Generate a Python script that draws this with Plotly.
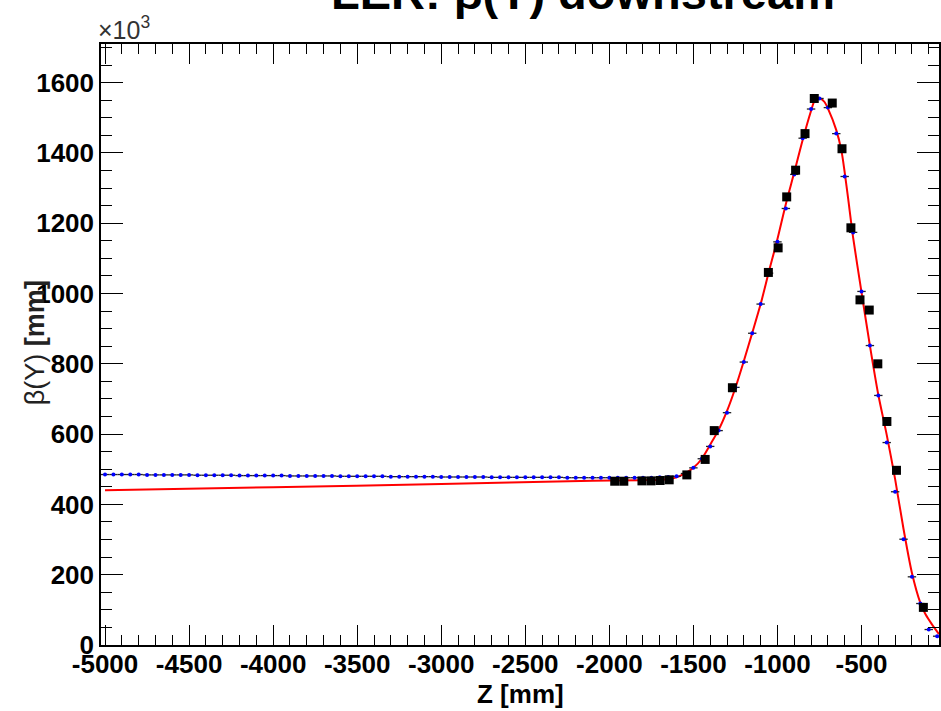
import plotly.graph_objects as go

# ---- data ----
z_sim = [-5000, -4950, -4900, -4850, -4800, -4750, -4700, -4650, -4600, -4550,
         -4500, -4450, -4400, -4350, -4300, -4250, -4200, -4150, -4100, -4050,
         -4000, -3950, -3900, -3850, -3800, -3750, -3700, -3650, -3600, -3550,
         -3500, -3450, -3400, -3350, -3300, -3250, -3200, -3150, -3100, -3050,
         -3000, -2950, -2900, -2850, -2800, -2750, -2700, -2650, -2600, -2550,
         -2500, -2450, -2400, -2350, -2300, -2250, -2200, -2150, -2100, -2050,
         -2000, -1950, -1900, -1850, -1800, -1750, -1700, -1650, -1600, -1550,
         -1500, -1450, -1400, -1350, -1300, -1250, -1200, -1150, -1100, -1050,
         -1000, -950, -900, -850, -800, -750, -700, -650, -600, -550,
         -500, -450, -400, -350, -300, -250, -200, -150, -100, -50]
beta_sim = [485, 485, 485, 485, 485, 484, 484, 484, 484, 484,
            484, 483, 483, 483, 483, 483, 482, 482, 482, 482,
            482, 482, 481, 481, 481, 481, 481, 481, 480, 480,
            480, 480, 480, 480, 479, 479, 479, 479, 479, 479,
            478, 478, 478, 478, 478, 478, 477, 477, 477, 477,
            477, 477, 477, 477, 477, 476, 476, 476, 476, 476,
            476, 476, 476, 476, 476, 476, 477, 478, 480, 488,
            504, 530, 565, 610, 661, 733, 805, 887, 970, 1058,
            1147, 1242, 1339, 1442, 1525, 1555, 1529, 1455, 1333, 1174,
            1006, 852, 710, 576, 436, 301, 194, 118, 44, 25]

z_meas = [-1968, -1914, -1806, -1752, -1698, -1644, -1539, -1430, -1376, -1268,
          -1054, -996, -945, -892, -836, -781, -674, -616, -563, -509,
          -454, -403, -349, -292, -132]
beta_meas = [466, 466, 467, 467, 468, 470, 484, 528, 610, 732,
             1060, 1130, 1275, 1351, 1455, 1555, 1542, 1412, 1187, 982,
             953, 800, 636, 497, 107]

z_fit = [-5000, -4000, -3000, -2100, -1800, -1700, -1650, -1600, -1550, -1500,
         -1450, -1400, -1350, -1300, -1250, -1200, -1150, -1100, -1050, -1000,
         -950, -900, -850, -800, -780, -760, -740, -720, -700, -650,
         -620, -600, -580, -550, -500, -450, -400, -350, -300, -250,
         -200, -150, -120, -80, -39]
beta_fit = [440, 449, 458, 467, 469, 470, 472, 477, 488, 504,
            530, 570, 612, 666, 732, 808, 888, 970, 1064, 1155,
            1255, 1345, 1437, 1520, 1548, 1557, 1554, 1545, 1527, 1465,
            1408, 1345, 1272, 1160, 1004, 852, 712, 598, 472, 330,
            205, 120, 88, 58, 31]

x_tick_vals = [-5000, -4500, -4000, -3500, -3000, -2500, -2000, -1500, -1000, -500]
x_tick_text = ["-5000", "-4500", "-4000", "-3500", "-3000", "-2500", "-2000", "-1500", "-1000", "-500"]
y_tick_vals = [0, 200, 400, 600, 800, 1000, 1200, 1400, 1600]
y_tick_text = ["0", "200", "400", "600", "800", "1000", "1200", "1400", "1600"]

FONT = "Liberation Sans, Arial, sans-serif"

fig = go.Figure()
fig.add_trace(go.Scatter(
    x=z_fit, y=beta_fit, mode="lines",
    line=dict(color="#ff0000", width=2, shape="spline", smoothing=0.8),
    showlegend=False, hoverinfo="skip"))
fig.add_trace(go.Scatter(
    x=z_sim, y=beta_sim, mode="markers",
    marker=dict(color="#0000ff", size=4, symbol="circle"),
    error_x=dict(type="constant", value=25, color="#222222", thickness=1.3, width=0),
    showlegend=False))
fig.add_trace(go.Scatter(
    x=z_meas, y=beta_meas, mode="markers",
    marker=dict(color="black", size=9, symbol="square"),
    showlegend=False))

axis_common = dict(
    showline=True, linecolor="black", linewidth=1.5, mirror="ticks",
    ticks="inside", tickcolor="black", tickwidth=1.3,
    showgrid=False, zeroline=False,
    tickfont=dict(family=FONT, size=26, color="black", weight="bold"),
)

fig.update_xaxes(
    range=[-5024, -39], tickmode="array", tickvals=x_tick_vals, ticktext=x_tick_text,
    ticklen=20, ticklabelstandoff=-5,
    minor=dict(tickmode="linear", tick0=0, dtick=100, ticklen=10, ticks="inside",
               tickcolor="black", tickwidth=1.2, showgrid=False),
    **axis_common)
fig.update_yaxes(
    range=[0, 1710], tickmode="array", tickvals=y_tick_vals, ticktext=y_tick_text,
    ticklen=22,
    minor=dict(tickmode="linear", tick0=0, dtick=50, ticklen=11, ticks="inside",
               tickcolor="black", tickwidth=1.2, showgrid=False),
    **axis_common)

fig.update_layout(
    width=941, height=711,
    margin=dict(l=101, r=0, t=44, b=66, pad=0),
    paper_bgcolor="white", plot_bgcolor="white",
    showlegend=False,
    annotations=[
        dict(text="LER: β(Y) downstream", xref="paper", yref="paper",
             x=0.575, y=1.0385, xanchor="center", yanchor="bottom", showarrow=False,
             font=dict(family=FONT, size=47, color="black", weight="bold")),
        dict(text="×10<sup>3</sup>", xref="paper", yref="paper",
             x=-0.006, y=0.996, xanchor="left", yanchor="bottom", showarrow=False,
             font=dict(family=FONT, size=25, color="#333333")),
        dict(text="β(Y) <b>[mm]</b>", xref="paper", yref="paper",
             x=(35 - 101) / 840, y=(645 - 343) / 601, xanchor="center", yanchor="middle",
             textangle=-90, showarrow=False,
             font=dict(family=FONT, size=27, color="#222222")),
        dict(text="Z [mm]", xref="paper", yref="paper",
             x=(521 - 101) / 840, y=(645 - 694) / 601, xanchor="center", yanchor="middle",
             showarrow=False,
             font=dict(family=FONT, size=26, color="black", weight="bold")),
    ],
)

fig.write_html("out.html")
